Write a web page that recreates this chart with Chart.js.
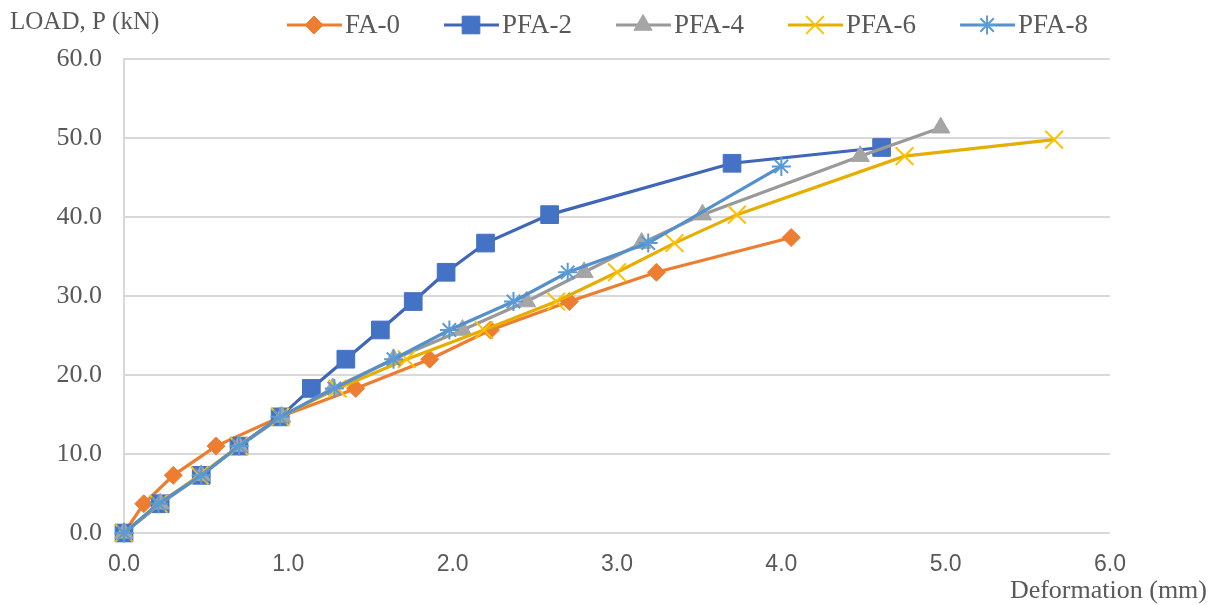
<!DOCTYPE html>
<html>
<head>
<meta charset="utf-8">
<script src="https://cdn.jsdelivr.net/npm/chart.js@4.4.1/dist/chart.umd.min.js"></script>
<style>
  html, body { margin: 0; padding: 0; background: #fff; }
  #wrap { width: 1208px; height: 605px; position: relative; }
</style>
</head>
<body>
<div id="wrap"><canvas id="c" width="1208" height="605"></canvas></div>
<script>
// ---- Data ----
const seriesNames = ["FA-0", "PFA-2", "PFA-4", "PFA-6", "PFA-8"];

const fa0X  = [0, 0.12, 0.30, 0.56, 0.95, 1.41, 1.86, 2.23, 2.71, 3.24, 4.06];
const fa0Y  = [0, 3.7, 7.3, 11.0, 14.7, 18.3, 22.0, 25.7, 29.3, 33.0, 37.4];

const pfa2X = [0, 0.22, 0.47, 0.70, 0.95, 1.14, 1.35, 1.56, 1.76, 1.96, 2.20, 2.59, 3.70, 4.61];
const pfa2Y = [0, 3.7, 7.3, 11.0, 14.7, 18.3, 22.0, 25.7, 29.3, 33.0, 36.7, 40.3, 46.8, 48.8];

const pfa4X = [0, 0.22, 0.47, 0.70, 0.96, 1.27, 1.64, 2.06, 2.45, 2.80, 3.15, 3.52, 4.48, 4.97];
const pfa4Y = [0, 3.7, 7.3, 11.0, 14.7, 18.3, 22.0, 25.7, 29.3, 33.0, 36.7, 40.3, 47.7, 51.3];

const pfa6X = [0, 0.21, 0.46, 0.70, 0.95, 1.30, 1.72, 2.19, 2.63, 3.00, 3.35, 3.73, 4.75, 5.66];
const pfa6Y = [0, 3.7, 7.3, 11.0, 14.7, 18.3, 22.0, 25.7, 29.3, 33.0, 36.7, 40.3, 47.7, 49.8];

const pfa8X = [0, 0.21, 0.47, 0.70, 0.95, 1.28, 1.64, 1.98, 2.37, 2.70, 3.19, 4.00];
const pfa8Y = [0, 3.7, 7.3, 11.0, 14.7, 18.3, 22.0, 25.7, 29.3, 33.0, 36.7, 46.4];

const xTicks = [0, 1, 2, 3, 4, 5, 6];
const yTicks = [0, 10, 20, 30, 40, 50, 60];
const xTitle = "Deformation (mm)";
const yTitle = "LOAD, P (kN)";

// ---- Styles ----
const styles = [
  { line: "#ED7D31", fill: "#ED7D31", point: "rectRot", radius: 9 },
  { line: "#3F66B8", fill: "#4472C4", point: "rect", radius: 12.5 },
  { line: "#999999", fill: "#A5A5A5", point: "triangle", radius: 10.5 },
  { line: "#E6AE00", fill: "#FFC000", point: "crossRot", radius: 12.5 },
  { line: "#5590CC", fill: "#5B9BD5", point: "star", radius: 9.5 }
];

const xs = [fa0X, pfa2X, pfa4X, pfa6X, pfa8X];
const ys = [fa0Y, pfa2Y, pfa4Y, pfa6Y, pfa8Y];

const SERIF = "'Liberation Serif', 'Times New Roman', serif";
const SANS = "'Liberation Sans', Arial, sans-serif";
const TXT = "#595959";

function isStroke(p) { return p === "crossRot" || p === "star"; }

const datasets = seriesNames.map((name, i) => ({
  label: name,
  data: xs[i].map((x, k) => ({ x: x, y: ys[i][k] })),
  borderColor: styles[i].line,
  backgroundColor: styles[i].fill,
  pointBackgroundColor: styles[i].fill,
  pointBorderColor: styles[i].fill,
  pointBorderWidth: isStroke(styles[i].point) ? 2 : 1,
  pointStyle: styles[i].point,
  pointRadius: styles[i].radius,
  pointHoverRadius: styles[i].radius,
  borderWidth: 3.2,
  tension: 0,
  showLine: true,
  fill: false,
  clip: false,
  order: seriesNames.length - i
}));

const legendPlugin = {
  id: "customLegend",
  afterDraw(chart) {
    const ctx = chart.ctx;
    ctx.save();
    ctx.font = "27px " + SERIF;
    ctx.textBaseline = "middle";
    ctx.textAlign = "left";
    let x = 287;
    const y = 25;
    seriesNames.forEach((name, i) => {
      const s = styles[i];
      ctx.strokeStyle = s.line;
      ctx.lineWidth = 3.2;
      ctx.beginPath();
      ctx.moveTo(x, y);
      ctx.lineTo(x + 55, y);
      ctx.stroke();
      ctx.fillStyle = s.fill;
      ctx.strokeStyle = s.fill;
      ctx.lineWidth = isStroke(s.point) ? 2 : 1;
      Chart.helpers.drawPoint(ctx, { pointStyle: s.point, radius: s.radius, rotation: 0, borderWidth: ctx.lineWidth }, x + 27, y);
      ctx.fillStyle = TXT;
      ctx.fillText(name, x + 58, y + 1);
      const w = ctx.measureText(name).width;
      x += 58 + w + 44;
    });
    // axis titles
    ctx.fillStyle = TXT;
    ctx.font = "25px " + SERIF;
    ctx.textAlign = "left";
    ctx.fillText(yTitle, 10, 22);
    ctx.font = "26px " + SERIF;
    ctx.textAlign = "right";
    ctx.fillText(xTitle, 1207, 591);
    ctx.restore();
  }
};

new Chart(document.getElementById("c"), {
  type: "scatter",
  data: { datasets: datasets },
  options: {
    responsive: false,
    animation: false,
    layout: { padding: { top: 59, right: 98, left: 0, bottom: 0 } },
    plugins: { legend: { display: false }, tooltip: { enabled: false } },
    scales: {
      x: {
        type: "linear",
        min: 0, max: 6,
        afterBuildTicks(scale) { scale.ticks = xTicks.map(v => ({ value: v })); },
        afterFit(scale) { scale.height = 72; },
        grid: { display: false, drawTicks: false },
        border: { display: false },
        ticks: {
          padding: 18,
          color: TXT,
          font: { family: SANS, size: 23 },
          callback: v => Number(v).toFixed(1)
        }
      },
      y: {
        type: "linear",
        min: 0, max: 60,
        afterBuildTicks(scale) { scale.ticks = yTicks.map(v => ({ value: v })); },
        afterFit(scale) { scale.width = 124; },
        grid: { color: "#D9D9D9", lineWidth: 2, drawTicks: false },
        border: { display: true, color: "#D9D9D9", width: 2 },
        ticks: {
          padding: 22,
          color: TXT,
          font: { family: SERIF, size: 26 },
          callback: v => Number(v).toFixed(1)
        }
      }
    }
  },
  plugins: [legendPlugin]
});
</script>
</body>
</html>
